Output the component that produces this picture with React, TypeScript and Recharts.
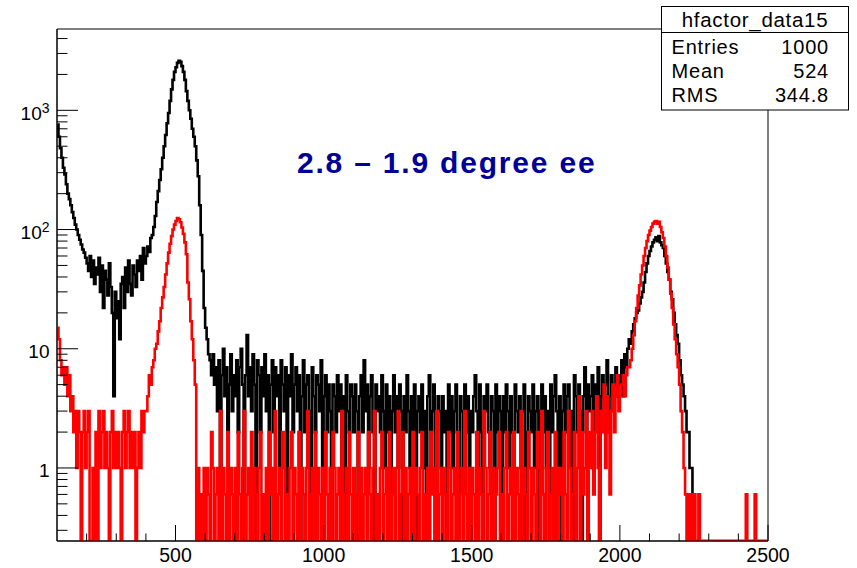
import { ComposedChart, Line, XAxis, YAxis, ReferenceArea } from "recharts"

// histogram binning (5-unit bins from 100 to 2500), one row below = 100 units
const BIN_START = 100
const BIN_WIDTH = 5
const Y_MIN = 0.244
const Y_MAX = 4810

const black = [
  760, 600, 480, 400, 330, 290, 240, 200, 180, 160, 140, 125, 110, 100, 90, 82, 75, 68, 64, 58,
  52, 45, 60, 40, 55, 35, 48, 42, 58, 30, 50, 22, 45, 38, 28, 52, 33, 20, 4, 30,
  18, 25, 12, 35, 40, 22, 48, 30, 55, 35, 28, 50, 42, 33, 55, 45, 60, 38, 70, 52,
  60, 72, 65, 85, 90, 105, 130, 170, 210, 260, 320, 400, 500, 620, 780, 950, 1200, 1500, 1800, 2100,
  2300, 2500, 2600, 2550, 2350, 2100, 1800, 1450, 1200, 1000, 850, 700, 600, 500, 380, 280, 160, 90, 45, 22,
  15, 12, 9, 8, 6, 9, 5, 7, 3, 8, 0, 6, 10, 4, 7, 2, 5, 9, 3, 6,
  4, 8, 2, 7, 10, 5, 0, 6, 13, 4, 7, 3, 9, 5, 0, 8, 6, 2, 7, 4,
  9, 3, 6, 0, 5, 8, 2, 7, 4, 6, 1, 8, 5, 3, 7, 0, 6, 4, 9, 2,
  5, 7, 3, 6, 0, 4, 8, 2, 5, 6, 3, 0, 7, 4, 2, 6, 5, 3, 8, 1,
  4, 6, 2, 5, 3, 0, 5, 4, 2, 6, 3, 5, 1, 4, 0, 6, 3, 2, 5, 4,
  2, 5, 3, 0, 4, 6, 2, 8, 3, 5, 1, 4, 6, 2, 0, 5, 3, 4, 2, 6,
  3, 1, 5, 2, 4, 0, 3, 6, 2, 4, 1, 5, 3, 0, 4, 2, 6, 3, 1, 4,
  2, 5, 0, 3, 4, 2, 5, 1, 3, 0, 4, 6, 2, 3, 5, 0, 2, 4, 3, 1,
  4, 2, 3, 0, 5, 2, 4, 1, 3, 5, 2, 0, 4, 3, 1, 5, 2, 4, 0, 3,
  2, 4, 6, 3, 1, 5, 2, 0, 4, 3, 5, 2, 1, 4, 3, 0, 5, 2, 4, 3,
  0, 4, 2, 5, 3, 1, 4, 2, 0, 5, 3, 2, 4, 1, 3, 5, 0, 2, 4, 3,
  2, 5, 1, 3, 4, 0, 3, 5, 2, 4, 1, 3, 0, 5, 2, 4, 6, 3, 1, 4,
  0, 3, 5, 2, 4, 5, 1, 3, 0, 6, 4, 2, 5, 3, 0, 4, 7, 2, 5, 3,
  4, 6, 2, 5, 3, 7, 0, 4, 6, 3, 5, 8, 2, 4, 6, 3, 5, 7, 4, 6,
  5, 8, 4, 9, 7, 10, 12, 11, 14, 16, 18, 20, 21, 24, 27, 30, 36, 44, 52, 60,
  66, 72, 78, 82, 86, 80, 88, 78, 74, 70, 60, 52, 44, 38, 30, 26, 20, 16, 13, 11,
  8, 6, 5, 4, 3, 2, 2, 1, 1, 0.6, 0, 0, 0, 0, 0, 0, 0, 0, 0, 0,
  0, 0, 0, 0, 0, 0, 0, 0, 0, 0, 0, 0, 0, 0, 0, 0, 0, 0, 0, 0,
  0, 0, 0, 0, 0, 0, 0, 0, 0, 0, 0, 0, 0, 0, 0, 0, 0, 0, 0, 0,
]

const red = [
  15, 12, 8, 6, 7, 5, 7, 4, 6, 3, 4, 2, 3, 1, 3, 2, 0, 2, 3, 1,
  2, 3, 0, 0, 1, 0, 2, 0, 3, 1, 2, 3, 1, 2, 1, 0, 2, 3, 1, 2,
  1, 2, 1, 0, 2, 3, 1, 2, 3, 1, 2, 1, 2, 0, 1, 2, 1, 3, 2, 3,
  3, 4, 6, 5, 7, 8, 10, 11, 14, 17, 22, 27, 33, 42, 52, 64, 76, 88, 100, 110,
  118, 125, 122, 115, 104, 92, 78, 62, 36, 26, 17, 12, 8, 5, 0, 1, 0, 0.6, 0, 1,
  0, 1, 0.6, 0, 2, 1, 0, 0.6, 1, 0, 3, 0, 1, 0.6, 0, 2, 0, 1, 0.6, 0,
  1, 0, 2, 0.6, 0, 1, 3, 0, 0.6, 1, 0, 2, 0, 1, 0.6, 0, 1, 2, 0, 0.6,
  0, 1, 0, 2, 0.6, 1, 0, 3, 0, 0.6, 1, 0, 2, 1, 0, 0.6, 0, 1, 2, 0,
  1, 0.6, 0, 2, 0, 1, 0.6, 0, 1, 3, 0, 0.6, 1, 0, 2, 0, 1, 0.6, 0, 1,
  0, 2, 0.6, 0, 1, 0, 2, 1, 0, 0.6, 1, 0, 3, 0, 0.6, 1, 0, 2, 0.6, 0,
  1, 0, 0.6, 2, 0, 1, 0, 0.6, 1, 0, 2, 0.6, 0, 1, 3, 0, 0.6, 0, 1, 2,
  0, 0.6, 1, 0, 2, 0, 0.6, 1, 0, 1, 3, 0, 0.6, 2, 0, 1, 0, 0.6, 1, 0,
  2, 0, 1, 0.6, 0, 1, 2, 0, 0.6, 0, 1, 0, 2, 0.6, 1, 0, 3, 0, 0.6, 1,
  0, 1, 0.6, 0, 2, 1, 0, 0.6, 1, 0, 2, 0, 0.6, 1, 0, 3, 0.6, 0, 1, 0,
  1, 0.6, 0, 2, 0, 1, 0.6, 0, 3, 1, 0, 0.6, 2, 0, 1, 0, 0.6, 1, 2, 0,
  0.6, 0, 1, 2, 0, 0.6, 1, 0, 2, 0, 1, 0.6, 0, 3, 0, 1, 0.6, 0, 2, 1,
  0, 1, 0.6, 0, 2, 1, 0, 3, 0.6, 0, 1, 2, 0, 0.6, 1, 0, 2, 0, 1, 0.6,
  1, 0, 2, 0.6, 0, 3, 1, 0, 0.6, 2, 0, 1, 4, 0, 2, 0.6, 1, 3, 0, 2,
  1, 3, 0.6, 2, 4, 1, 0, 3, 2, 5, 1, 4, 2, 0.6, 3, 5, 2, 4, 6, 3,
  4, 5, 6, 4, 6, 7, 7, 8, 10, 13, 17, 22, 28, 34, 42, 50, 60, 70, 80, 90,
  98, 105, 112, 116, 118, 112, 116, 105, 95, 85, 72, 60, 48, 38, 29, 22, 16, 12, 9, 7,
  5, 3, 2, 1, 0.6, 0, 0.6, 0, 0.6, 0, 0.6, 0, 0, 0.6, 0, 0, 0, 0, 0, 0,
  0, 0, 0, 0, 0, 0, 0, 0, 0, 0, 0, 0, 0, 0, 0, 0, 0, 0, 0, 0,
  0, 0, 0, 0, 0, 0.6, 0, 0, 0, 0, 0, 0.6, 0, 0, 0, 0, 0, 0, 0, 0,
]

const xTicks = [
  200, 300, 400, 500, 600, 700, 800, 900, 1000, 1100, 1200, 1300,
  1400, 1500, 1600, 1700, 1800, 1900, 2000, 2100, 2200, 2300, 2400, 2500,
]
const xMajor = [500, 1000, 1500, 2000, 2500]

const yTicks = [
  0.3, 0.4, 0.5, 0.6, 0.7, 0.8, 0.9,
  1, 2, 3, 4, 5, 6, 7, 8, 9,
  10, 20, 30, 40, 50, 60, 70, 80, 90,
  100, 200, 300, 400, 500, 600, 700, 800, 900,
  1000, 2000, 3000, 4000,
]
const yLabels: Record<number, [string, string]> = {
  1: ["1", ""],
  10: ["10", ""],
  100: ["10", "2"],
  1000: ["10", "3"],
}

const statsTitle = "hfactor_data15"
const statsRows: [string, string][] = [
  ["Entries", "1000"],
  ["Mean", "524"],
  ["RMS", "344.8"],
]
const caption = "2.8 \u2013 1.9 degree ee"

// zero bins sit on the bottom of the log frame, as ROOT draws them
const data = black.map((b, i) => ({
  x: BIN_START + BIN_WIDTH * (i + 0.5),
  black: b > 0 ? b : Y_MIN,
  red: red[i] > 0 ? red[i] : Y_MIN,
}))

const FONT = "'Liberation Sans', Arial, Helvetica, sans-serif"

function XTick(props: any) {
  const { x, y, payload } = props
  const major = xMajor.includes(payload.value)
  return (
    <g>
      <line x1={x} x2={x} y1={y} y2={y - (major ? 16 : 7.5)} stroke="#000" strokeWidth={1} />
      {major && (
        <text x={x} y={y + 21} textAnchor="middle" fontSize={19.5} fontFamily={FONT} fill="#000">
          {payload.value}
        </text>
      )}
    </g>
  )
}

function YTick(props: any) {
  const { x, y, payload } = props
  const lab = yLabels[payload.value]
  return (
    <g>
      <line x1={x} x2={x + (lab ? 21 : 10.5)} y1={y} y2={y} stroke="#000" strokeWidth={1} />
      {lab && (
        <text x={x - 7.5} y={y + 9.3} textAnchor="end" fontSize={19} fontFamily={FONT} fill="#000">
          {lab[0]}
          {lab[1] && (
            <tspan dy={-6.5} fontSize={14}>
              {lab[1]}
            </tspan>
          )}
        </text>
      )}
    </g>
  )
}

function Overlay() {
  return (
    <svg
      width={857}
      height={568}
      style={{ position: "absolute", left: 0, top: 0, pointerEvents: "none" }}
    >
      <text x={297} y={173} fontSize={30} fontWeight="bold" letterSpacing={1.8} fontFamily={FONT} fill="#000099">
        {caption}
      </text>
      <rect x={661.5} y={6.5} width={187} height={103.5} fill="#fff" stroke="#000" strokeWidth={1} />
      <line x1={661.5} x2={848.5} y1={32.5} y2={32.5} stroke="#000" strokeWidth={1} />
      <text x={755} y={26.7} textAnchor="middle" fontSize={20.5} letterSpacing={0.7} fontFamily={FONT} fill="#000">
        {statsTitle}
      </text>
      {statsRows.map(([k, v], i) => (
        <g key={k}>
          <text x={671.5} y={54 + i * 23.8} fontSize={20} letterSpacing={0.8} fontFamily={FONT} fill="#000">
            {k}
          </text>
          <text x={829} y={54 + i * 23.8} textAnchor="end" fontSize={20} letterSpacing={0.8} fontFamily={FONT} fill="#000">
            {v}
          </text>
        </g>
      ))}
    </svg>
  )
}

export default function App() {
  return (
    <div style={{ position: "absolute", left: 0, top: 0, width: 857, height: 568, background: "#fff" }}>
      <ComposedChart width={857} height={568} data={data} margin={{ top: 29, right: 89, bottom: 0, left: 0 }}>
        <XAxis
          dataKey="x"
          type="number"
          domain={[100, 2500]}
          allowDataOverflow
          ticks={xTicks}
          interval={0}
          height={27}
          tickSize={0}
          tickMargin={0}
          tickLine={false}
          axisLine={{ stroke: "#000" }}
          tick={<XTick />}
        />
        <YAxis
          type="number"
          scale="log"
          domain={[Y_MIN, Y_MAX]}
          allowDataOverflow
          ticks={yTicks}
          interval={0}
          width={57}
          tickSize={0}
          tickMargin={0}
          tickLine={false}
          axisLine={{ stroke: "#000" }}
          tick={<YTick />}
        />
        <ReferenceArea x1={100} x2={2500} y1={Y_MIN} y2={Y_MAX} fill="none" stroke="#000" strokeWidth={1} />
        <Line
          type="step"
          dataKey="black"
          stroke="#000"
          strokeWidth={2.6}
          dot={false}
          activeDot={false}
          isAnimationActive={false}
        />
        <Line
          type="step"
          dataKey="red"
          stroke="#ff0000"
          strokeWidth={2.6}
          dot={false}
          activeDot={false}
          isAnimationActive={false}
        />
      </ComposedChart>
      <Overlay />
    </div>
  )
}
